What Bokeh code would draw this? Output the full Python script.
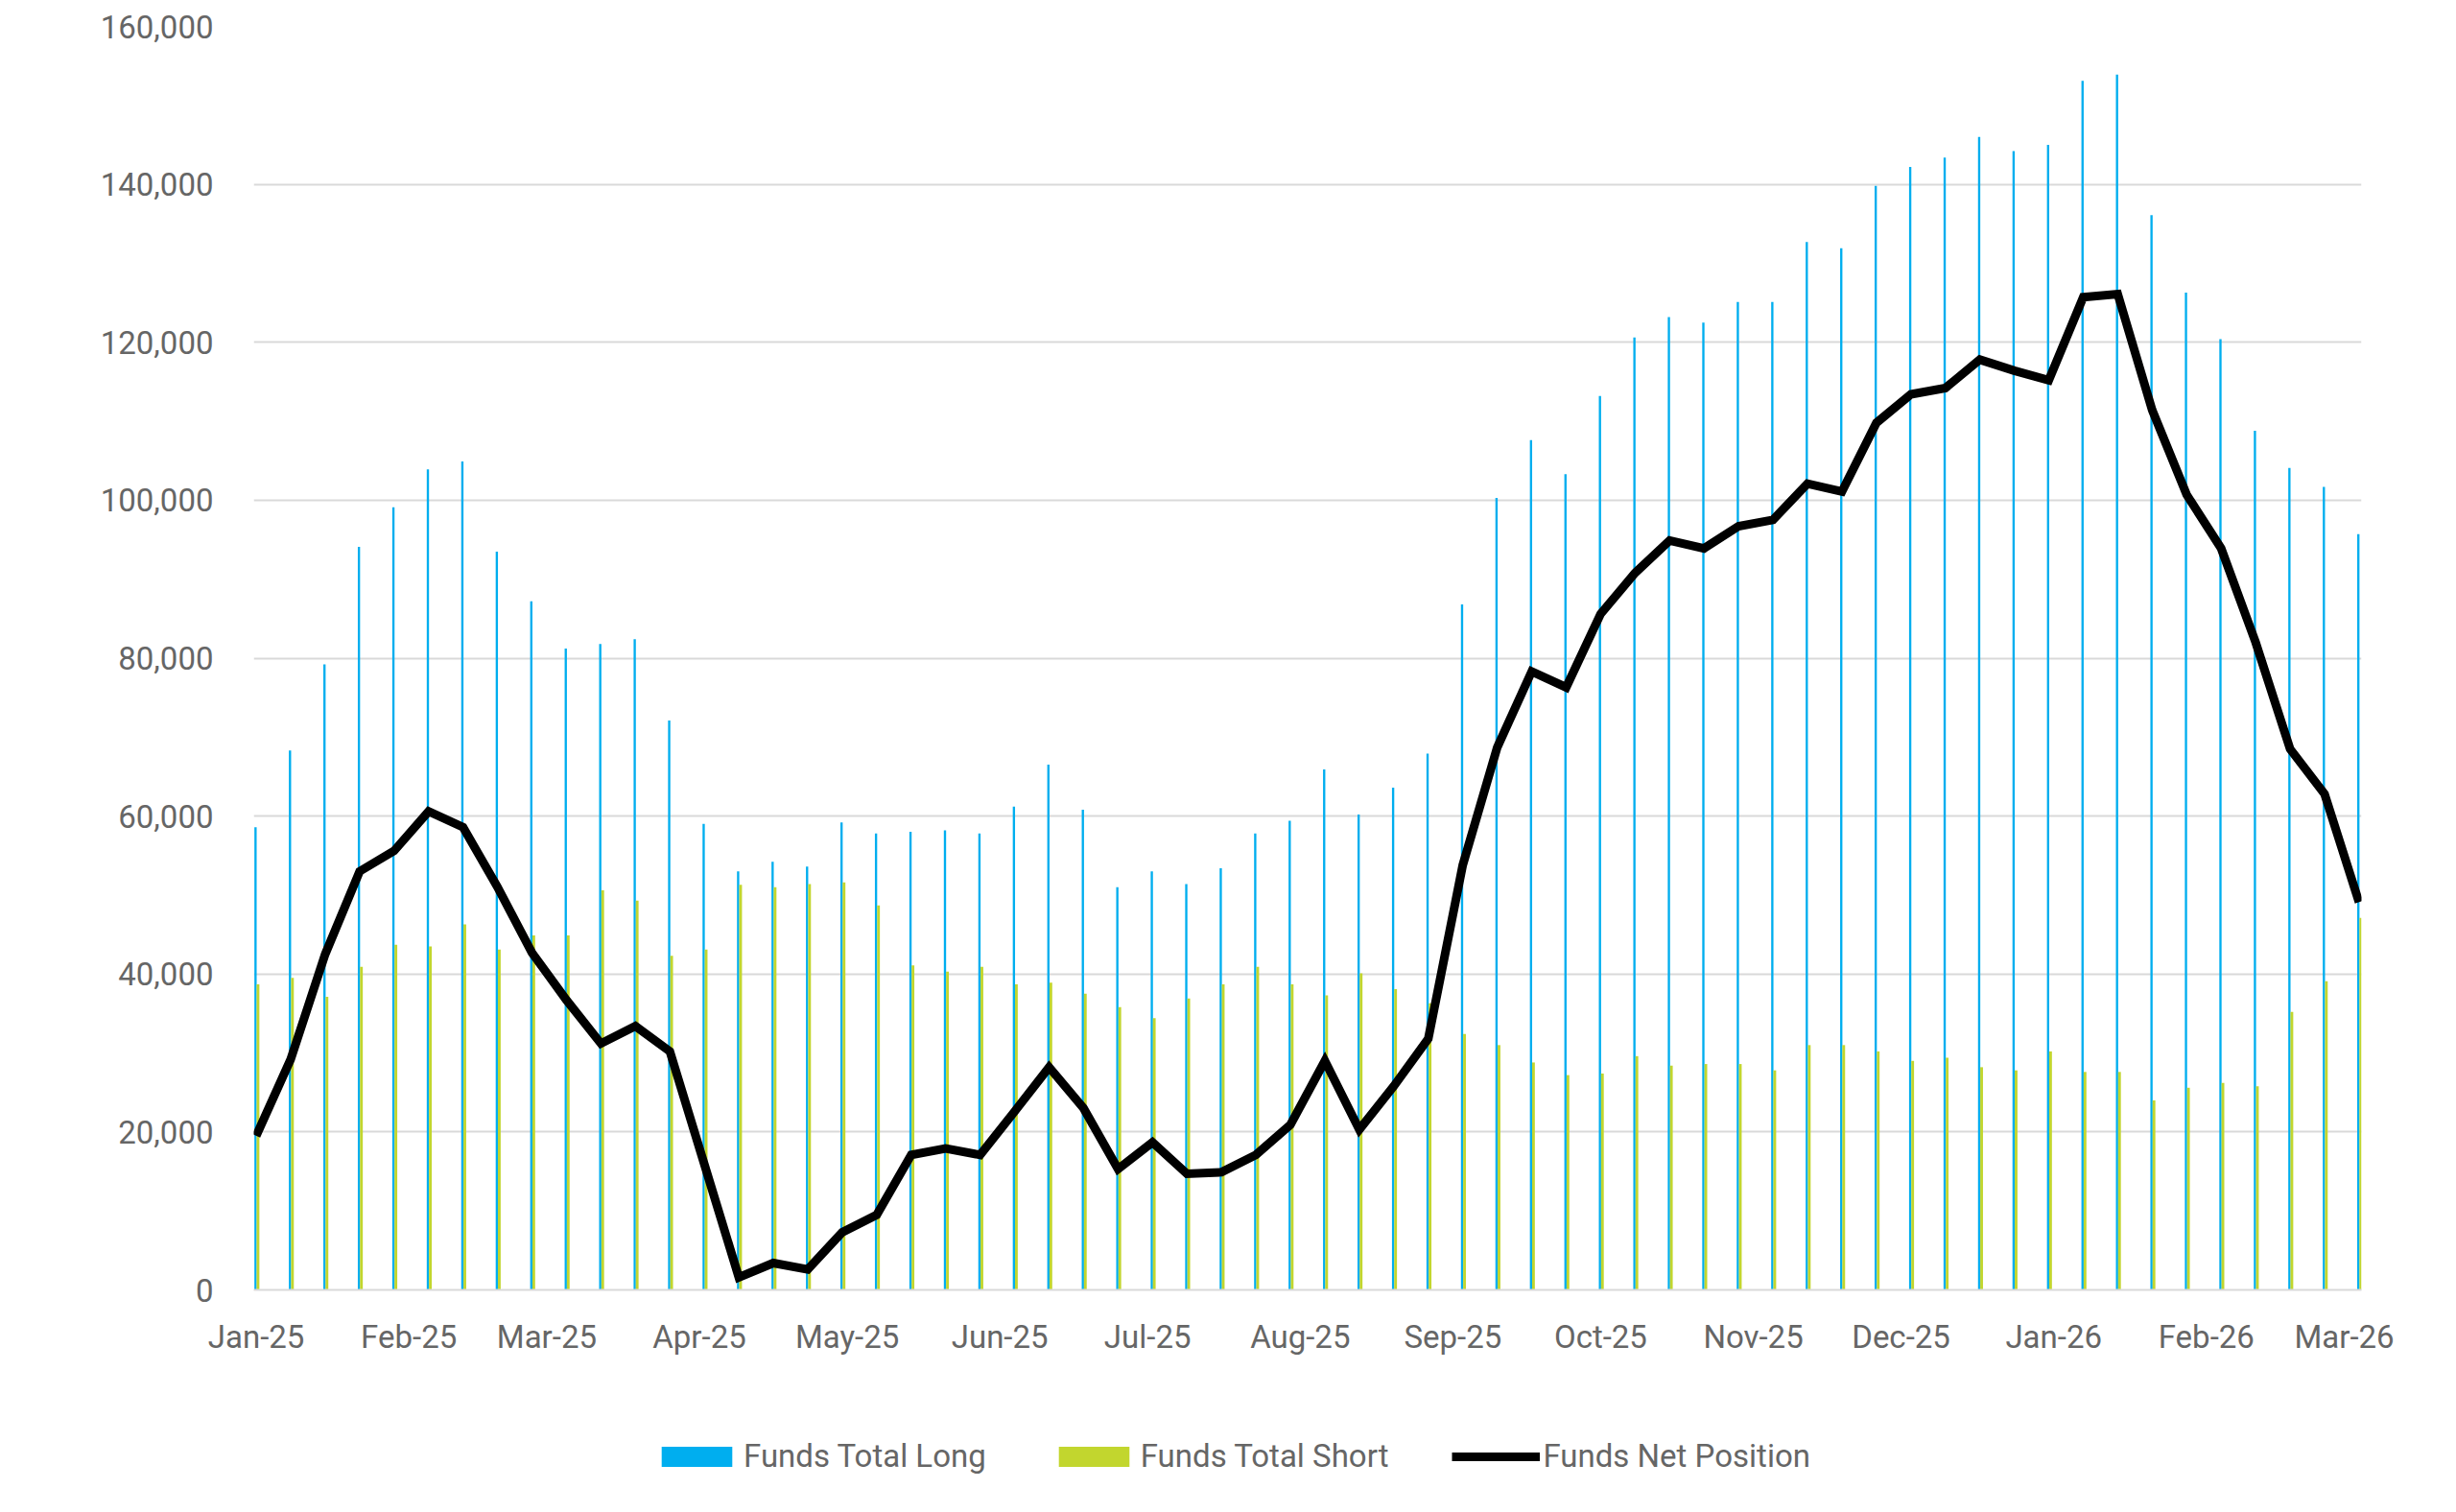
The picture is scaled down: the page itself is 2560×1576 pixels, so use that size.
import datetime as dt
import pandas as pd
from bokeh.plotting import figure
from bokeh.layouts import column
from bokeh.models import (ColumnDataSource, Range1d, FixedTicker, NumeralTickFormatter,
                          Legend, LegendItem)
from bokeh.transform import dodge
from bokeh.embed import file_html
from bokeh.resources import INLINE

# ---- data (weekly, Tuesday reports) ----
dates = pd.date_range("2025-01-07", periods=62, freq="7D")

funds_long = [58.6, 68.3, 79.2, 94.1, 99.1, 103.9, 104.9, 93.5, 87.2, 81.2,
              81.8, 82.4, 72.1, 59.0, 53.0, 54.2, 53.6, 59.2, 57.8, 58.0,
              58.2, 57.8, 61.2, 66.5, 60.8, 51.0, 53.0, 51.4, 53.4, 57.8,
              59.4, 65.9, 60.2, 63.6, 67.9, 86.8, 100.3, 107.6, 103.3, 113.2,
              120.6, 123.2, 122.5, 125.1, 125.1, 132.7, 131.9, 139.8, 142.2, 143.4,
              146.0, 144.2, 145.0, 153.1, 153.9, 136.1, 126.3, 120.4, 108.8, 104.1,
              101.7, 95.7]
funds_short = [38.7, 39.5, 37.1, 40.9, 43.7, 43.5, 46.3, 43.1, 44.9, 44.9,
               50.6, 49.3, 42.3, 43.1, 51.3, 51.0, 51.4, 51.6, 48.7, 41.1,
               40.3, 40.9, 38.7, 38.9, 37.5, 35.8, 34.4, 36.9, 38.7, 40.9,
               38.7, 37.3, 40.1, 38.1, 36.3, 32.4, 31.0, 28.8, 27.2, 27.4,
               29.6, 28.4, 28.6, 28.6, 27.8, 31.0, 31.0, 30.2, 29.0, 29.4,
               28.2, 27.8, 30.2, 27.6, 27.6, 24.0, 25.6, 26.2, 25.8, 35.2,
               39.1, 47.1]
funds_net = [19.5, 29.2, 42.5, 53.0, 55.6, 60.6, 58.6, 51.0, 42.7, 36.7,
             31.2, 33.4, 30.2, 15.9, 1.6, 3.4, 2.6, 7.3, 9.5, 17.1,
             17.9, 17.1, 22.6, 28.2, 23.0, 15.3, 18.7, 14.7, 14.9, 17.1,
             20.9, 29.0, 20.3, 25.8, 31.8, 53.8, 68.7, 78.3, 76.3, 85.6,
             90.8, 94.9, 93.9, 96.7, 97.5, 102.1, 101.1, 109.8, 113.4, 114.2,
             117.8, 116.4, 115.2, 125.7, 126.1, 111.4, 100.7, 93.9, 82.0, 68.5,
             62.8, 49.1]

y_ticks = [0, 20000, 40000, 60000, 80000, 100000, 120000, 140000, 160000]
tick_dates = [dt.datetime(2025, m, 7) for m in range(1, 13)] + \
             [dt.datetime(2026, m, 7) for m in range(1, 4)]
tick_labels = ["Jan-25", "Feb-25", "Mar-25", "Apr-25", "May-25", "Jun-25", "Jul-25",
               "Aug-25", "Sep-25", "Oct-25", "Nov-25", "Dec-25", "Jan-26", "Feb-26",
               "Mar-26"]
series_names = ["Funds Total Long", "Funds Total Short", "Funds Net Position"]

# ---- styling ----
FONT = "Roboto"
TXT = "#666666"
BLUE = "#00AEEF"
GREEN = "#C2D62E"
GRID = "#d9d9d9"
DAY = 86400000.0
W = 2552
MAIN_H = 1440
LEG_H = 128

src = ColumnDataSource(dict(
    date=list(dates),
    long=[v * 1000 for v in funds_long],
    short=[v * 1000 for v in funds_short],
    net=[v * 1000 for v in funds_net],
))

x0 = dates[0] - pd.Timedelta(hours=12)
x1 = dates[-1] + pd.Timedelta(hours=12)
xr = Range1d(x0, x1)

p = figure(width=W, height=MAIN_H, output_backend="svg", toolbar_location=None,
           x_axis_type="datetime",
           x_range=xr, y_range=Range1d(0, 160000),
           min_border_left=264, min_border_right=91, min_border_top=27,
           min_border_bottom=MAIN_H - 1344)
p.outline_line_color = None
p.background_fill_color = "white"
p.border_fill_color = "white"

long_style = dict(fill_color=BLUE, line_color=None)
short_style = dict(fill_color=GREEN, line_color=None)
net_style = dict(line_color="black", line_width=9, line_join="miter")

p.vbar(x=dodge("date", -0.14 * DAY, range=xr), top="long", width=0.46 * DAY,
       source=src, **long_style)
p.vbar(x=dodge("date", 0.36 * DAY, range=xr), top="short", width=0.56 * DAY,
       source=src, **short_style)
p.line(x="date", y="net", source=src, **net_style)

# y axis
ya = p.yaxis[0]
ya.ticker = FixedTicker(ticks=y_ticks)
ya.formatter = NumeralTickFormatter(format="0,0")
ya.axis_line_color = None
ya.major_tick_line_color = None
ya.minor_tick_line_color = None
ya.major_label_standoff = 36
ya.major_label_text_font = FONT
ya.major_label_text_font_size = "33px"
ya.major_label_text_color = TXT

# x axis
xa = p.xaxis[0]
tick_ms = [int(pd.Timestamp(d).value // 10**6) for d in tick_dates]
xa.ticker = FixedTicker(ticks=tick_ms)
xa.major_label_overrides = {ms: lab for ms, lab in zip(tick_ms, tick_labels)}
xa.axis_line_color = GRID
xa.axis_line_width = 2
xa.major_tick_line_color = None
xa.minor_tick_line_color = None
xa.major_label_standoff = 23
xa.major_label_text_font = FONT
xa.major_label_text_font_size = "33px"
xa.major_label_text_color = TXT

p.xgrid.grid_line_color = None
p.ygrid.grid_line_color = GRID
p.ygrid.grid_line_width = 2
p.ygrid.ticker = FixedTicker(ticks=y_ticks)

# ---- legend strip (separate figure; proxy glyphs have zero size / lie off view) ----
lg_x0 = dates[-1] + pd.Timedelta(days=30)
lg_x1 = dates[-1] + pd.Timedelta(days=800)
lg = figure(width=W, height=LEG_H, output_backend="svg", toolbar_location=None,
            x_axis_type="datetime",
            x_range=Range1d(lg_x0, lg_x1), y_range=Range1d(0, 160000),
            x_axis_location=None, y_axis_location=None,
            min_border_left=264, min_border_right=91, min_border_top=0, min_border_bottom=0)
lg.outline_line_color = None
lg.grid.grid_line_color = None
lg.background_fill_color = "white"
lg.border_fill_color = "white"
g1 = lg.vbar(x="date", bottom=0, top=0, width=0.46 * DAY, source=src, **long_style)
g2 = lg.vbar(x="date", bottom=0, top=0, width=0.56 * DAY, source=src, **short_style)
g3 = lg.line(x="date", y="net", source=src, **net_style)

legend = Legend(items=[LegendItem(label=series_names[0], renderers=[g1]),
                       LegendItem(label=series_names[1], renderers=[g2]),
                       LegendItem(label=series_names[2], renderers=[g3])],
                orientation="horizontal", location=(416, 31),
                glyph_width=92, glyph_height=26, label_standoff=3, spacing=66,
                padding=0, margin=0, border_line_color=None, background_fill_alpha=0,
                label_text_font=FONT, label_text_font_size="33px", label_text_color=TXT)
lg.add_layout(legend)

layout = column(p, lg, spacing=0)
open("out.html", "w").write(file_html(layout, INLINE))
